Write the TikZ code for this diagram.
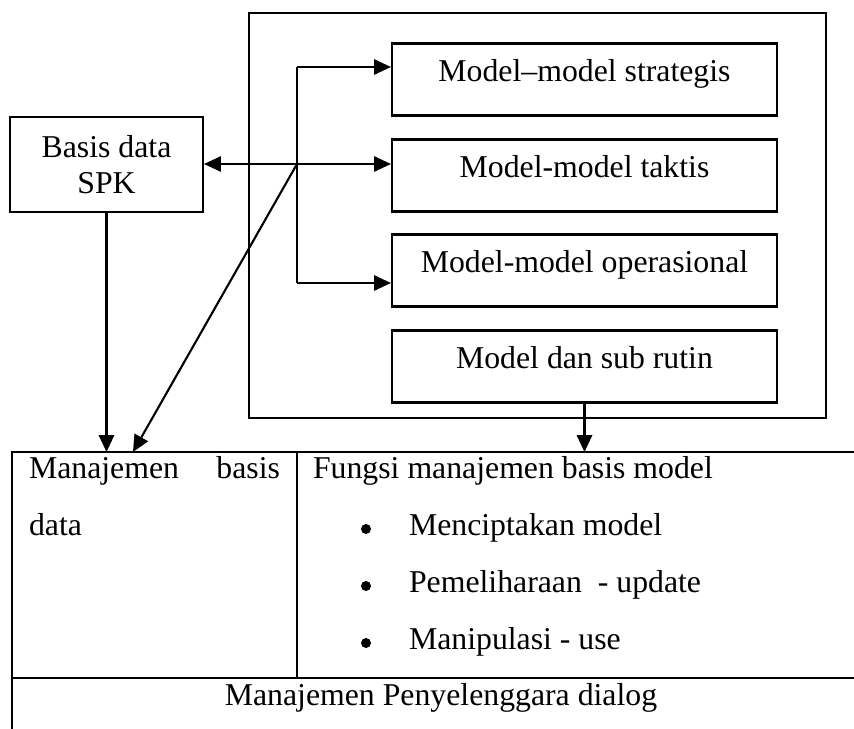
\documentclass[tikz,border=0pt]{standalone}
\usepackage{fontspec}
\setmainfont{Liberation Serif}
\usetikzlibrary{arrows.meta}

\begin{document}
\begin{tikzpicture}[line width=1.5pt,
  >={Triangle[length=4.2mm,width=3.8mm]},
  every node/.style={font=\fontsize{22.6}{25.6}\selectfont},
  modelbox/.style={draw,inner sep=0pt,minimum width=9.625cm,minimum height=1.8cm,
    text height=0.7em,text depth=0.45em},
  bullet/.style={circle,fill,inner sep=0pt,minimum size=0.25cm}]
\useasboundingbox (0,0) rectangle (21.35,-18.225);
% kotak model
\draw (6.225,-0.325) rectangle (20.65,-10.45);
\node[modelbox] (strat) at (14.6125,-1.9875) {Model--model strategis};
\node[modelbox] (takt) at (14.6125,-4.3875) {Model-model taktis};
\node[modelbox] (oper) at (14.6125,-6.7625) {Model-model operasional};
\node[modelbox] (sub) at (14.6125,-9.1625) {Model dan sub rutin};
% basis data
\node[draw,align=center,inner sep=0pt,minimum width=4.825cm,minimum height=2.375cm] (spk) at (2.6625,-4.1125) {Basis data\\SPK};
\coordinate (hub) at (7.425,-4.1);
\coordinate (top) at (7.425,-1.675);
\coordinate (bot) at (7.425,-7.075);
\coordinate (tl) at (0.3,-11.3);
\coordinate (diag) at (3.325,-11.3);
\draw (top)--(bot);
\draw[->] (top)--(top-|strat.west);
\draw[->] (hub)--(hub-|takt.west);
\draw[->] (bot)--(bot-|oper.west);
\draw[->] (hub)--(hub-|spk.east);
\draw[->] (hub)--(diag);
\draw[->] (spk.south)--(spk.south|-tl);
\draw[->] (sub.south)--(sub.south|-tl);
% tabel
\draw (0.3,-18.225)--(tl)--(21.35,-11.3);
\draw (7.425,-11.3)--(7.425,-16.95);
\draw (0.3,-16.95)--(21.35,-16.95);
\node[anchor=base west,inner sep=0pt] (mbd) at (0.7,-11.975) {Manajemen};
\node[anchor=base east,inner sep=0pt] (mbd2) at (7.025,-11.975) {basis};
\node[anchor=base west,inner sep=0pt] (mbd3) at (0.7,-13.4) {data};
\node[anchor=base west,inner sep=0pt] (fmbm) at (7.8,-11.975) {Fungsi manajemen basis model};
\node[bullet] (b1) at (9.15,-13.225) {};
\node[bullet] (b2) at (9.15,-14.65) {};
\node[bullet] (b3) at (9.15,-16.075) {};
\node[anchor=base west,inner sep=0pt] (i1) at (10.2,-13.4) {Menciptakan model};
\node[anchor=base west,inner sep=0pt] (i2) at (10.2,-14.825) {Pemeliharaan\ \ - update};
\node[anchor=base west,inner sep=0pt] (i3) at (10.2,-16.25) {Manipulasi - use};
\node[anchor=base,inner sep=0pt] (mpd) at (11.025,-17.625) {Manajemen Penyelenggara dialog};
\end{tikzpicture}
\end{document}
